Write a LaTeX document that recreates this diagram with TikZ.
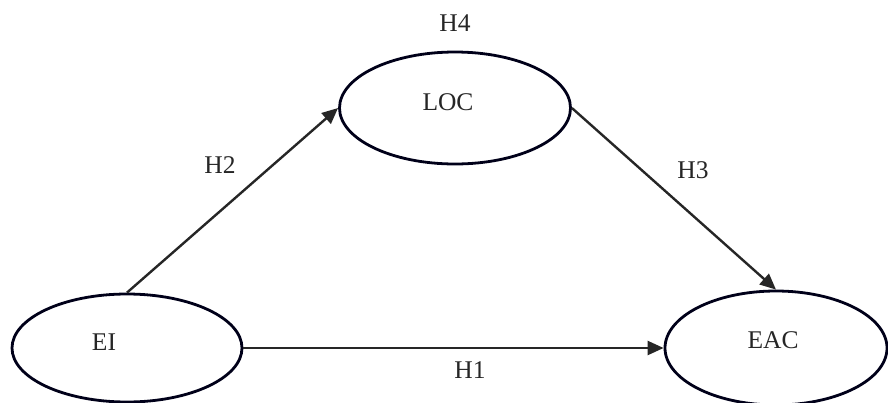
\documentclass[tikz,border=0pt]{standalone}
\usepackage{fontspec}
\setmainfont{Liberation Serif}
\usetikzlibrary{shapes.geometric,arrows.meta}
\begin{document}
\begin{tikzpicture}[x=1pt,y=-1pt,
  construct/.style={draw=black!90!blue, line width=2.8pt, ellipse, inner sep=0pt},
  path/.style={draw=black!85, line width=2.4pt, -{Triangle[length=16pt,width=14pt]}},
  hyp/.style={font=\fontsize{25.5}{28}\selectfont, text=black!85, inner sep=0pt},
  every label/.style={font=\fontsize{25.5}{28}\selectfont, text=black!85, inner sep=0pt}]
\useasboundingbox (0,0) rectangle (888,402);
\node[construct, minimum width=230pt, minimum height=108pt,
  label={[xshift=-23pt,yshift=6pt]center:EI}] (ei) at (127,348) {};
\node[construct, minimum width=231pt, minimum height=112pt,
  label={[xshift=-7pt,yshift=6pt]center:LOC}] (loc) at (455,108) {};
\node[construct, minimum width=222pt, minimum height=114pt,
  label={[xshift=-3pt,yshift=8pt]center:EAC}] (eac) at (776,348) {};
\draw[path] (ei.north) -- (loc.west);
\draw[path] (loc.east) -- (eac.north);
\draw[path] (ei.east) -- (eac.west);
\node[hyp] (h1) at (470,370) {H1};
\node[hyp] (h2) at (220,165) {H2};
\node[hyp] (h3) at (693,170) {H3};
\node[hyp] (h4) at (455,23) {H4};
\end{tikzpicture}
\end{document}
